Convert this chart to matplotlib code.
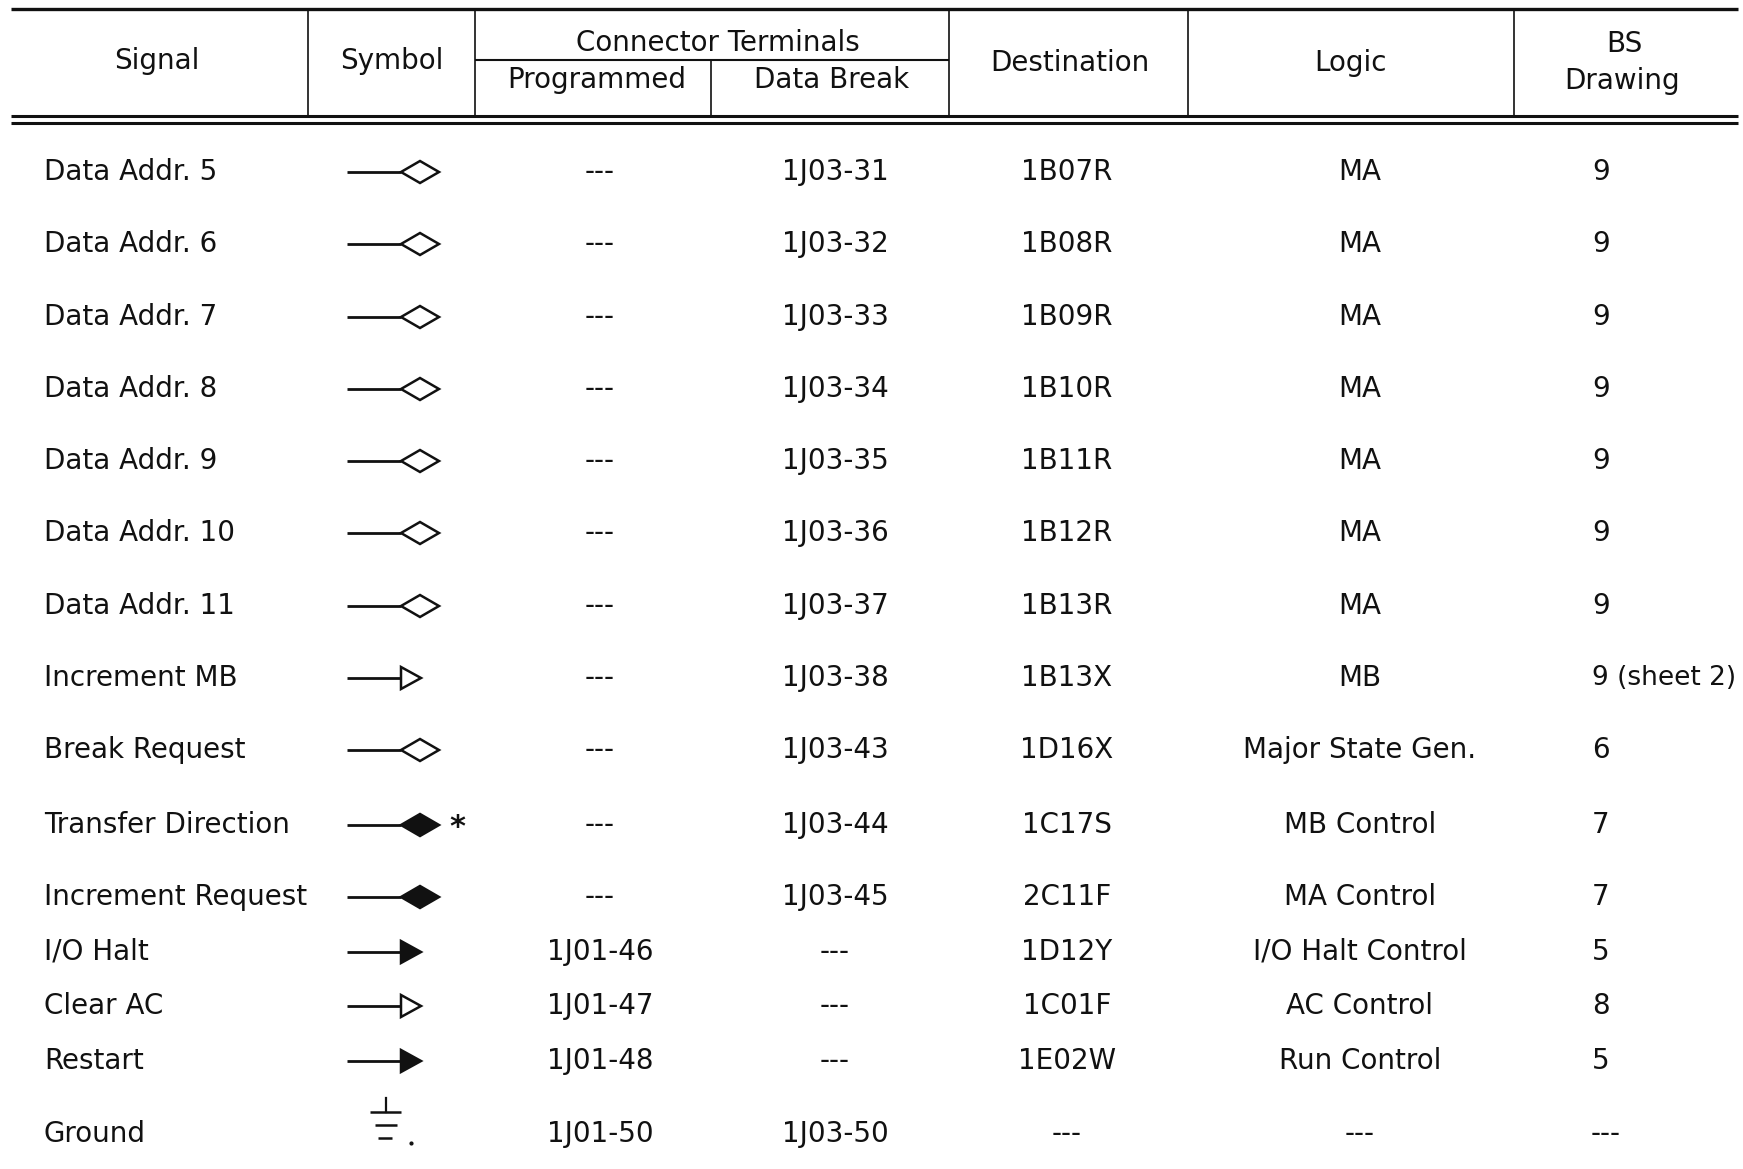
import matplotlib
matplotlib.use("Agg")
import matplotlib.pyplot as plt
from matplotlib.patches import Polygon
from matplotlib.lines import Line2D

# ---------------- data ----------------
signals = ["Data Addr. 5", "Data Addr. 6", "Data Addr. 7", "Data Addr. 8",
           "Data Addr. 9", "Data Addr. 10", "Data Addr. 11", "Increment MB",
           "Break Request", "Transfer Direction", "Increment Request",
           "I/O Halt", "Clear AC", "Restart", "Ground"]
symbols = ["open_diamond"] * 7 + ["open_arrow", "open_diamond", "filled_diamond",
           "filled_diamond", "filled_arrow", "open_arrow", "filled_arrow", "ground"]
symbol_notes = [""] * 9 + ["*"] + [""] * 5
programmed = ["---"] * 11 + ["1J01-46", "1J01-47", "1J01-48", "1J01-50"]
data_break = ["1J03-31", "1J03-32", "1J03-33", "1J03-34", "1J03-35", "1J03-36",
              "1J03-37", "1J03-38", "1J03-43", "1J03-44", "1J03-45",
              "---", "---", "---", "1J03-50"]
destination = ["1B07R", "1B08R", "1B09R", "1B10R", "1B11R", "1B12R", "1B13R",
               "1B13X", "1D16X", "1C17S", "2C11F", "1D12Y", "1C01F", "1E02W", "---"]
logic = ["MA"] * 7 + ["MB", "Major State Gen.", "MB Control", "MA Control",
         "I/O Halt Control", "AC Control", "Run Control", "---"]
bs_drawing = ["9"] * 7 + ["9 (sheet 2)", "6", "7", "7", "5", "8", "5", "---"]

header_top = ["Signal", "Symbol", "Connector Terminals", "Destination", "Logic", "BS", "Drawing"]
header_sub = ["Programmed", "Data Break"]

# ---------------- layout (pixel coordinates of the page) ----------------
W, H = 1743, 1169
row_y = [172, 244, 317, 389, 461, 533, 606, 678, 750, 825, 897, 952, 1006, 1061, 1134]
x_signal = 44
x_sym = 347
x_prog = 600
x_db = 835
x_dest = 1067
x_logic = 1360
x_bs = 1592

FONT = ["DejaVu Sans"]
FS = 20
ink = "#111111"

fig = plt.figure(figsize=(W / 100, H / 100), dpi=100)
ax = fig.add_axes([0, 0, 1, 1])
ax.set_xlim(0, W)
ax.set_ylim(H, 0)
ax.axis("off")

def hline(x0, x1, y, lw):
    ax.add_line(Line2D([x0, x1], [y, y], color=ink, lw=lw, solid_capstyle="butt"))

def vline(x, y0, y1, lw=1.2):
    ax.add_line(Line2D([x, x], [y0, y1], color=ink, lw=lw, solid_capstyle="butt"))

# header rules
hline(11, 1738, 9, 2.4)
hline(11, 1738, 116, 2.2)
hline(11, 1738, 123, 2.2)
hline(475, 949, 60, 1.5)
for xv in [308, 475, 949, 1188, 1514]:
    vline(xv, 9, 116)
vline(711, 60, 116)

def txt(x, y, s, ha="center", **kw):
    kw.setdefault("fontsize", FS)
    ax.text(x, y, s, ha=ha, va="center", family=FONT, color=ink, **kw)

txt(157, 61, header_top[0])
txt(392, 61, header_top[1])
txt(718, 43, header_top[2])
txt(1070, 63, header_top[3])
txt(1351, 63, header_top[4])
txt(1624, 44, header_top[5])
txt(1622, 81, header_top[6])
txt(597, 80, header_sub[0])
txt(832, 80, header_sub[1])

# symbols
def draw_symbol(kind, y):
    if kind == "ground":
        ax.add_line(Line2D([386, 386], [1098, 1112], color=ink, lw=1.6))
        hline(370, 401, 1112, 1.8)
        hline(375, 397, 1125, 1.8)
        hline(378, 392, 1138, 1.8)
        ax.plot([411], [1143], marker="o", ms=2, color=ink)
        return
    hline(x_sym, 401, y, 2.0)
    if "diamond" in kind:
        pts = [(401, y), (420, y - 11), (439, y), (420, y + 11)]
    else:
        pts = [(401, y - 11), (421, y), (401, y + 11)]
    filled = kind.startswith("filled")
    ax.add_patch(Polygon(pts, closed=True, facecolor=ink if filled else "white",
                         edgecolor=ink, lw=1.8, joinstyle="miter"))

for i, y in enumerate(row_y):
    txt(x_signal, y, signals[i], ha="left")
    draw_symbol(symbols[i], y)
    if symbol_notes[i]:
        txt(457, y + 2, symbol_notes[i], fontweight="bold", fontsize=22)
    txt(x_prog, y, programmed[i])
    txt(x_db, y, data_break[i])
    txt(x_dest, y, destination[i])
    txt(x_logic, y, logic[i])
    if bs_drawing[i] == "---":
        txt(1606, y, bs_drawing[i])
    else:
        fs = 19 if len(bs_drawing[i]) > 3 else FS
        txt(x_bs, y, bs_drawing[i], ha="left", fontsize=fs)

fig.savefig("out.png", dpi=100, facecolor="white")
